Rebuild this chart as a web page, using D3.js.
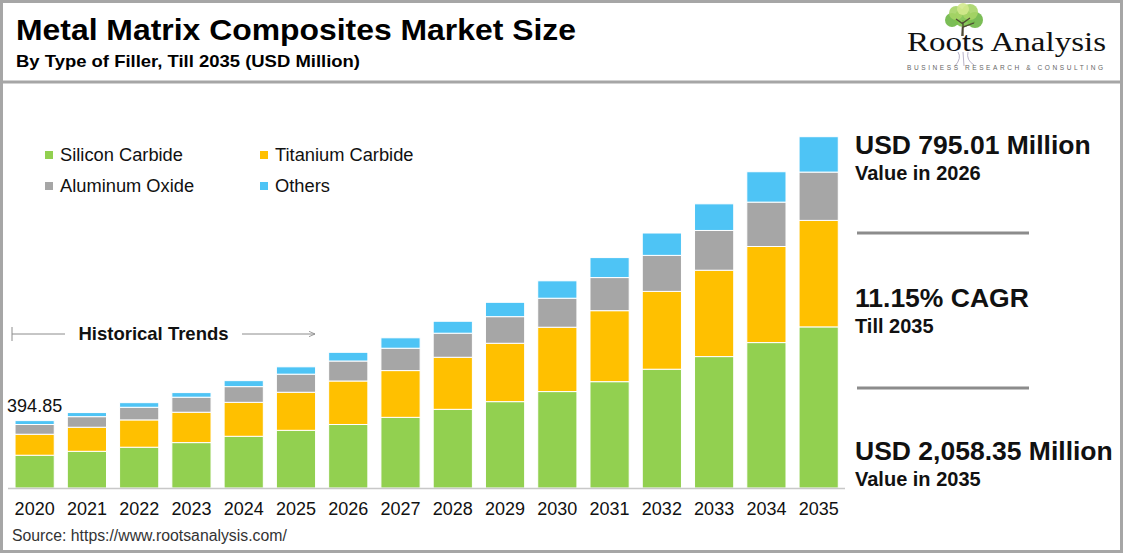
<!DOCTYPE html>
<html>
<head>
<meta charset="utf-8">
<script src="https://cdn.jsdelivr.net/npm/d3@7"></script>
<style>
  body { margin: 0; background: #fff; }
  text { font-family: Arial, "Liberation Sans", sans-serif; }
</style>
</head>
<body>
<div id="chart"></div>
<script>
// data (USD Million)
const years = ["2020","2021","2022","2023","2024","2025","2026","2027","2028","2029","2030","2031","2032","2033","2034","2035"];
const siliconCarbide   = [192, 215, 239, 266, 303, 338, 372, 414, 461, 506, 565, 623, 696, 770, 852, 944];
const titaniumCarbide  = [123, 141, 160, 178, 199, 223, 255, 274, 305, 342, 377, 416, 456, 506, 563, 624];
const aluminumOxide    = [57, 62, 74, 88, 92, 106, 117, 131, 141, 156, 170, 194, 211, 233, 260, 283];
const others           = [22.85, 24, 27, 27, 35, 43, 51.01, 61, 70, 84, 102, 117, 131, 156, 178, 207.35];
const seriesNames = ["Silicon Carbide", "Titanium Carbide", "Aluminum Oxide", "Others"];
const seriesColors = ["#92d050", "#ffc000", "#a6a6a6", "#4ec4f5"];
const firstLabel = "394.85";

const width = 1123, height = 553;

const svg = d3.select("#chart")
    .append("svg")
        .attr("width", width)
        .attr("height", height);

// frame + header separator
svg.append("rect")
    .attr("x", 1.5).attr("y", 1.5)
    .attr("width", width - 3).attr("height", height - 3)
    .attr("fill", "none")
    .attr("stroke", "#a6a6a6")
    .attr("stroke-width", 3);
svg.append("line")
    .attr("x1", 0).attr("x2", width)
    .attr("y1", 82).attr("y2", 82)
    .attr("stroke", "#a6a6a6")
    .attr("stroke-width", 3);

// title
svg.append("text")
    .attr("x", 16).attr("y", 40)
    .style("font-size", "30px")
    .style("font-weight", "bold")
    .attr("textLength", 560)
    .attr("lengthAdjust", "spacingAndGlyphs")
    .text("Metal Matrix Composites Market Size");
svg.append("text")
    .attr("x", 16).attr("y", 67)
    .style("font-size", "17px")
    .style("font-weight", "bold")
    .attr("textLength", 344)
    .attr("lengthAdjust", "spacingAndGlyphs")
    .text("By Type of Filler, Till 2035 (USD Million)");

// logo (simple tree + wordmark)
const logo = svg.append("g");
logo.append("path")
    .attr("d", "M958,52 Q962,58 955,66 M963,52 L964,66 M968,52 Q966,60 974,65")
    .attr("stroke", "#b9b2c8").attr("stroke-width", 1).attr("fill", "none");
logo.append("path")
    .attr("d", "M962,36 L963,20 M963,24 L955,18 M963,23 L971,17 M963,27 L975,22")
    .attr("stroke", "#4f4a35").attr("stroke-width", 1.6).attr("fill", "none");
const blobs = [
    [952, 20, 7, "#6db644"], [975, 20, 8, "#6db644"], [963, 18, 9, "#7dc24c"],
    [956, 13, 7, "#a6d466"], [970, 12, 8, "#a6d466"], [963, 9, 6, "#d3e98d"]
];
blobs.forEach(b => {
    logo.append("circle")
        .attr("cx", b[0]).attr("cy", b[1]).attr("r", b[2])
        .attr("fill", b[3]).attr("opacity", 0.9);
});
logo.append("path")
    .attr("d", "M963,36 L963,22 M963,24 L956,19 M963,23 L970,18 M963,27 L974,23")
    .attr("stroke", "#4f4a35").attr("stroke-width", 1.3).attr("fill", "none");
logo.append("text")
    .attr("x", 907).attr("y", 51)
    .style("font-family", "'Liberation Serif', 'DejaVu Serif', serif")
    .style("font-size", "28px")
    .attr("textLength", 199)
    .attr("lengthAdjust", "spacingAndGlyphs")
    .attr("fill", "#111")
    .text("Roots Analysis");
logo.append("text")
    .attr("x", 907).attr("y", 70)
    .style("font-size", "6.5px")
    .attr("textLength", 196)
    .attr("fill", "#666")
    .text("BUSINESS RESEARCH & CONSULTING");

// scales
const x = d3.scaleBand()
    .domain(years)
    .range([8.5, 844.8])
    .paddingInner(0.25)
    .paddingOuter(0.125);

const baseY = 488;
const y = d3.scaleLinear()
    .domain([0, 2058.35])
    .range([baseY, 136.7]);

// stack the series
const table = years.map((yr, i) => ({
    year: yr,
    "Silicon Carbide": siliconCarbide[i],
    "Titanium Carbide": titaniumCarbide[i],
    "Aluminum Oxide": aluminumOxide[i],
    "Others": others[i]
}));
const stacked = d3.stack().keys(seriesNames)(table);

svg.append("g")
    .selectAll("g")
    .data(stacked)
    .enter()
    .append("g")
        .attr("fill", (d, i) => seriesColors[i])
    .selectAll("rect")
    .data(d => d)
    .enter()
    .append("rect")
        .attr("x", d => x(d.data.year))
        .attr("y", d => y(d[1]))
        .attr("width", x.bandwidth())
        .attr("height", d => y(d[0]) - y(d[1]))
        .attr("stroke", "#fff")
        .attr("stroke-width", 1);

// baseline + year labels
svg.append("line")
    .attr("x1", 8).attr("x2", 845)
    .attr("y1", baseY + 0.5).attr("y2", baseY + 0.5)
    .attr("stroke", "#c8c8c8")
    .attr("stroke-width", 1.5);

const xAxis = svg.append("g")
    .attr("transform", `translate(0, ${baseY})`)
    .call(d3.axisBottom(x).tickSize(0).tickPadding(14));
xAxis.select(".domain").remove();
xAxis.selectAll("text")
    .style("font-size", "18px")
    .style("font-family", "Arial, 'Liberation Sans', sans-serif")
    .attr("fill", "#111");

// value label on first bar
svg.append("text")
    .attr("x", x(years[0]) + x.bandwidth() / 2)
    .attr("y", y(d3.sum(stacked, s => s[0][1] - s[0][0])) - 9)
    .style("text-anchor", "middle")
    .style("font-size", "18px")
    .attr("fill", "#111")
    .text(firstLabel);

// legend
const legendPos = [[45, 155], [260, 155], [45, 186], [260, 186]];
const legend = svg.append("g");
seriesNames.forEach((name, i) => {
    legend.append("rect")
        .attr("x", legendPos[i][0]).attr("y", legendPos[i][1] - 4)
        .attr("width", 8).attr("height", 8)
        .attr("fill", seriesColors[i]);
    legend.append("text")
        .attr("x", legendPos[i][0] + 15).attr("y", legendPos[i][1])
        .attr("dy", "0.35em")
        .style("font-size", "18.3px")
        .attr("fill", "#111")
        .text(name);
});

// historical trends marker
svg.append("defs").append("marker")
    .attr("id", "arrow")
    .attr("viewBox", "0 0 10 10")
    .attr("refX", 9).attr("refY", 5)
    .attr("markerWidth", 7).attr("markerHeight", 7)
    .attr("orient", "auto")
    .append("path")
        .attr("d", "M0,1 L9,5 L0,9")
        .attr("fill", "none")
        .attr("stroke", "#8c8c8c")
        .attr("stroke-width", 1.2);
svg.append("line")
    .attr("x1", 12).attr("x2", 12).attr("y1", 327).attr("y2", 341)
    .attr("stroke", "#8c8c8c");
svg.append("line")
    .attr("x1", 12).attr("x2", 65).attr("y1", 334).attr("y2", 334)
    .attr("stroke", "#8c8c8c");
svg.append("line")
    .attr("x1", 242).attr("x2", 315).attr("y1", 334).attr("y2", 334)
    .attr("stroke", "#8c8c8c")
    .attr("marker-end", "url(#arrow)");
svg.append("text")
    .attr("x", 153.5).attr("y", 334)
    .attr("dy", "0.35em")
    .style("text-anchor", "middle")
    .style("font-size", "18.5px")
    .style("font-weight", "bold")
    .attr("fill", "#111")
    .text("Historical Trends");

// right side key figures
const notes = [
    {big: "USD 795.01 Million", small: "Value in 2026", y: 154},
    {big: "11.15% CAGR", small: "Till 2035", y: 307},
    {big: "USD 2,058.35 Million", small: "Value in 2035", y: 460}
];
notes.forEach(n => {
    svg.append("text")
        .attr("x", 855).attr("y", n.y)
        .style("font-size", "26.5px")
        .style("font-weight", "bold")
        .attr("fill", "#111")
        .text(n.big);
    svg.append("text")
        .attr("x", 855).attr("y", n.y + 26)
        .style("font-size", "20px")
        .style("font-weight", "bold")
        .attr("fill", "#111")
        .text(n.small);
});
[233, 388].forEach(ly => {
    svg.append("line")
        .attr("x1", 857).attr("x2", 1029)
        .attr("y1", ly).attr("y2", ly)
        .attr("stroke", "#8c8c8c")
        .attr("stroke-width", 3);
});

// source
svg.append("text")
    .attr("x", 12).attr("y", 541)
    .style("font-size", "15.8px")
    .attr("fill", "#333")
    .text("Source: https://www.rootsanalysis.com/");
</script>
</body>
</html>
